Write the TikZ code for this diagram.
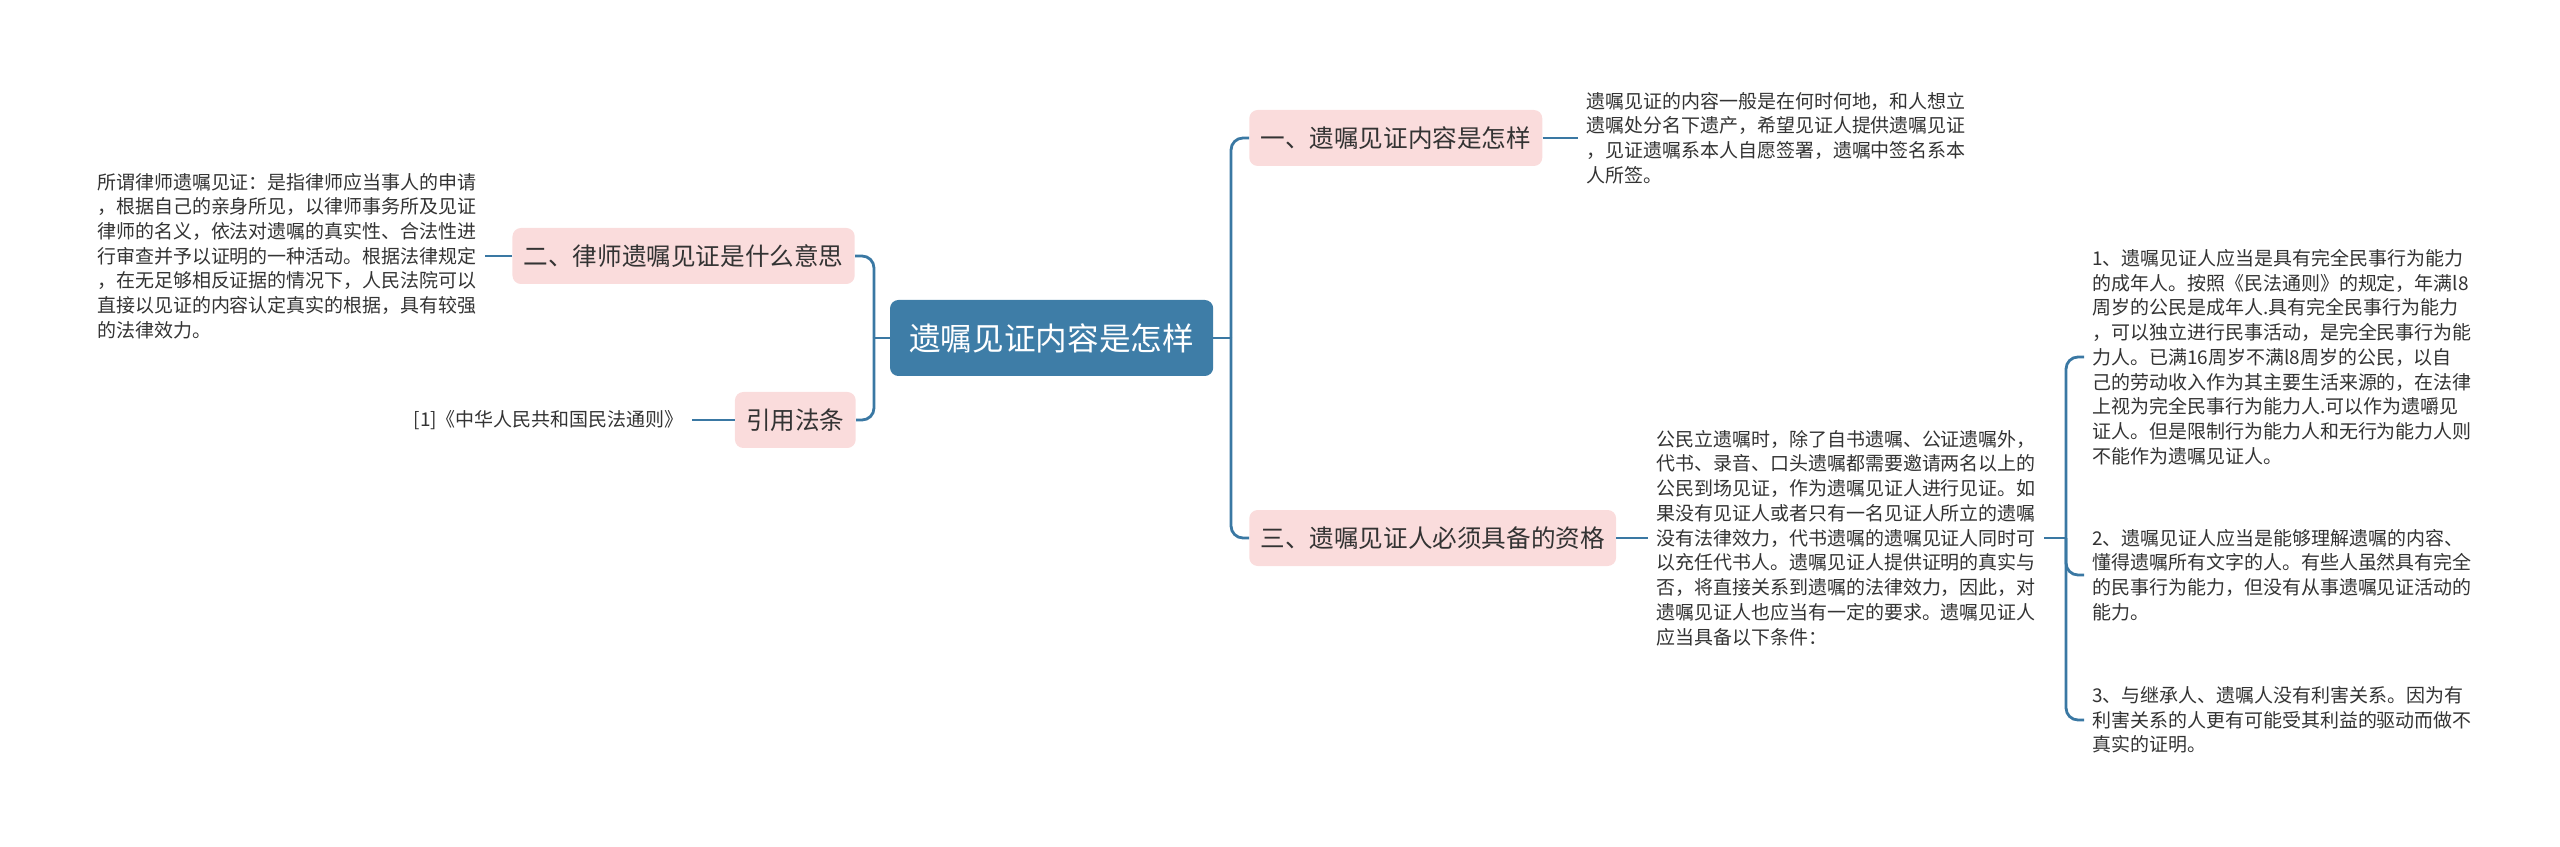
\documentclass[tikz,border=0pt]{standalone}
\usepackage{fontspec}
\setmainfont{Noto Sans CJK SC}
\usetikzlibrary{positioning}
\definecolor{rootblue}{HTML}{3E7DA7}
\definecolor{topicpink}{HTML}{FADCDC}
\definecolor{linkblue}{HTML}{3A78A3}
\definecolor{textgray}{HTML}{333333}

\begin{document}
\begin{tikzpicture}[
        root/.style={rectangle, rounded corners=6pt, fill=rootblue, text=white, minimum width=8.08cm, minimum height=1.9cm, font=\fontsize{22.5pt}{26pt}\selectfont},
        topic/.style={rectangle, rounded corners=6pt, fill=topicpink, text=textgray, minimum height=1.4cm, inner xsep=0.28cm, font=\fontsize{17.5pt}{21pt}\selectfont},
        leaf/.style={align=left, text=textgray, inner xsep=0.2cm, inner ysep=0pt, font=\fontsize{13.5pt}{17.6pt}\selectfont},
        link/.style={draw=linkblue, line width=2pt, rounded corners=0.3cm}
    ]
        \useasboundingbox (0,0) rectangle (64,21.15);

        % --- ROOT ---
        \node[root] (root) at (26.29, 12.7) {遗嘱见证内容是怎样};
        \coordinate (rjoint) at (30.775, 12.7);
        \coordinate (ljoint) at (21.85, 12.7);

        % --- TOPICS ---
        \node[topic, anchor=west] (one) at (31.225, 17.7) {一、遗嘱见证内容是怎样};
        \node[topic, anchor=west] (three) at (31.225, 7.7) {三、遗嘱见证人必须具备的资格};
        \node[topic, anchor=east] (two) at (21.375, 14.75) {二、律师遗嘱见证是什么意思};
        \node[topic, anchor=east] (cite) at (21.4, 10.65) {引用法条};

        % --- TEXTS ---
        \node[leaf, anchor=west] (onetext) at (39.45, 17.7) {遗嘱见证的内容一般是在何时何地，和人想立\\遗嘱处分名下遗产，希望见证人提供遗嘱见证\\，见证遗嘱系本人自愿签署，遗嘱中签名系本\\人所签。};
        \node[leaf, anchor=east] (twotext) at (12.125, 14.75) {所谓律师遗嘱见证：是指律师应当事人的申请\\，根据自己的亲身所见，以律师事务所及见证\\律师的名义，依法对遗嘱的真实性、合法性进\\行审查并予以证明的一种活动。根据法律规定\\，在无足够相反证据的情况下，人民法院可以\\直接以见证的内容认定真实的根据，具有较强\\的法律效力。};
        \node[leaf, anchor=east] (citetext) at (17.3, 10.65) {[1]《中华人民共和国民法通则》};
        \node[leaf, anchor=west] (threetext) at (41.2, 7.7) {公民立遗嘱时，除了自书遗嘱、公证遗嘱外，\\代书、录音、口头遗嘱都需要邀请两名以上的\\公民到场见证，作为遗嘱见证人进行见证。如\\果没有见证人或者只有一名见证人所立的遗嘱\\没有法律效力，代书遗嘱的遗嘱见证人同时可\\以充任代书人。遗嘱见证人提供证明的真实与\\否，将直接关系到遗嘱的法律效力，因此，对\\遗嘱见证人也应当有一定的要求。遗嘱见证人\\应当具备以下条件：};
        \coordinate (sjoint) at (51.65, 7.7);

        \node[leaf, anchor=west] (sub1) at (52.1, 12.225) {1、遗嘱见证人应当是具有完全民事行为能力\\的成年人。按照《民法通则》的规定，年满l8\\周岁的公民是成年人.具有完全民事行为能力\\，可以独立进行民事活动，是完全民事行为能\\力人。已满16周岁不满l8周岁的公民，以自\\己的劳动收入作为其主要生活来源的，在法律\\上视为完全民事行为能力人.可以作为遗嚼见\\证人。但是限制行为能力人和无行为能力人则\\不能作为遗嘱见证人。};
        \node[leaf, anchor=west] (sub2) at (52.1, 6.775) {2、遗嘱见证人应当是能够理解遗嘱的内容、\\懂得遗嘱所有文字的人。有些人虽然具有完全\\的民事行为能力，但没有从事遗嘱见证活动的\\能力。};
        \node[leaf, anchor=west] (sub3) at (52.1, 3.15) {3、与继承人、遗嘱人没有利害关系。因为有\\利害关系的人更有可能受其利益的驱动而做不\\真实的证明。};

        % --- CONNECTIONS ---
        \draw[link] (root.east) -- (rjoint);
        \draw[link] (rjoint) |- (one.west);
        \draw[link] (rjoint) |- (three.west);
        \draw[link] (root.west) -- (ljoint);
        \draw[link] (ljoint) |- (two.east);
        \draw[link] (ljoint) |- (cite.east);

        \draw[link] (one.east) -- (onetext.west);
        \draw[link] (two.west) -- (twotext.east);
        \draw[link] (cite.west) -- (citetext.east);
        \draw[link] (three.east) -- (threetext.west);

        \draw[link] (threetext.east) -- (sjoint);
        \draw[link] (sjoint) |- (sub1.west);
        \draw[link] (sjoint) |- (sub2.west);
        \draw[link] (sjoint) |- (sub3.west);

    \end{tikzpicture}
\end{document}
